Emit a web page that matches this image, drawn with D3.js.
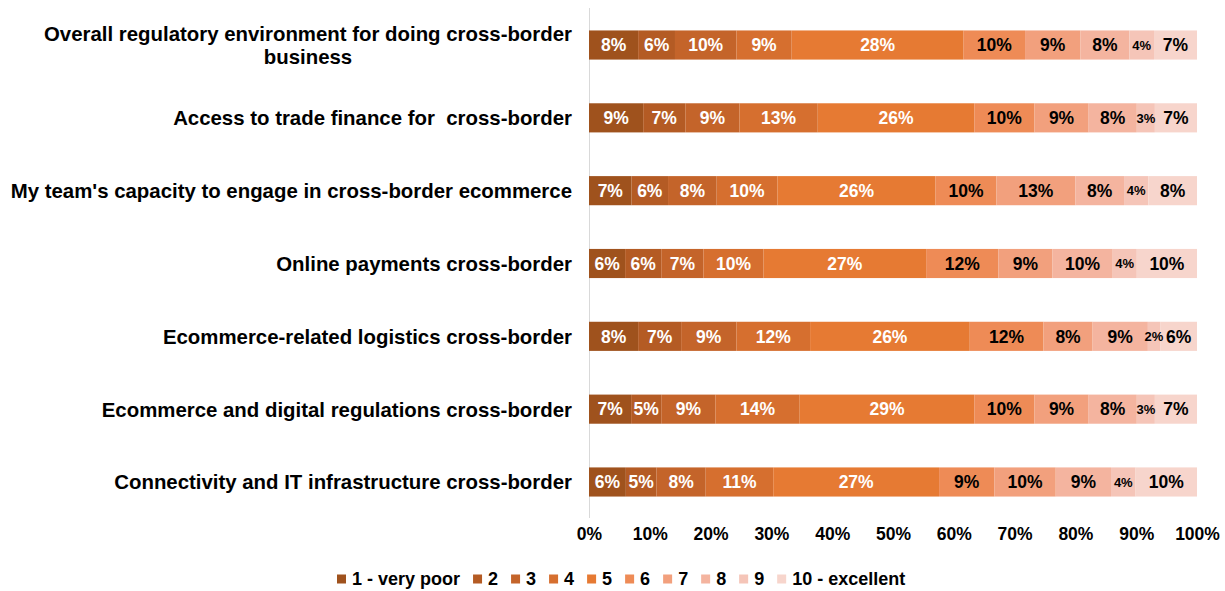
<!DOCTYPE html>
<html>
<head>
<meta charset="utf-8">
<script src="https://cdn.jsdelivr.net/npm/d3@7"></script>
<style>
  html, body { margin: 0; padding: 0; background: #ffffff; }
  svg { display: block; }
  text { font-family: "Liberation Sans", Arial, sans-serif; font-weight: bold; white-space: pre; }
</style>
</head>
<body>
<svg id="chart" width="1225" height="591"></svg>
<script>
// Survey categories (top to bottom)
const categories = [
  "Overall regulatory environment for doing cross-border business",
  "Access to trade finance for  cross-border",
  "My team's capacity to engage in cross-border ecommerce",
  "Online payments cross-border",
  "Ecommerce-related logistics cross-border",
  "Ecommerce and digital regulations cross-border",
  "Connectivity and IT infrastructure cross-border"
];

// Rating scale labels
const ratings = ["1 - very poor", "2", "3", "4", "5", "6", "7", "8", "9", "10 - excellent"];

// Share of respondents (%) for each rating, one array per rating, in category order
const r1  = [8, 9, 7, 6, 8, 7, 6];
const r2  = [6, 7, 6, 6, 7, 5, 5];
const r3  = [10, 9, 8, 7, 9, 9, 8];
const r4  = [9, 13, 10, 10, 12, 14, 11];
const r5  = [28, 26, 26, 27, 26, 29, 27];
const r6  = [10, 10, 10, 12, 12, 10, 9];
const r7  = [9, 9, 13, 9, 8, 9, 10];
const r8  = [8, 8, 8, 10, 9, 8, 9];
const r9  = [4, 3, 4, 4, 2, 3, 4];
const r10 = [7, 7, 8, 10, 6, 7, 10];
const seriesValues = [r1, r2, r3, r4, r5, r6, r7, r8, r9, r10];

// Axis tick values
const tickValues = [0, 0.1, 0.2, 0.3, 0.4, 0.5, 0.6, 0.7, 0.8, 0.9, 1.0];

const colors = ["#9f521d", "#b45b24", "#c4642a", "#d66f2f", "#e67a33",
                "#ee8b56", "#f2a07d", "#f4b49f", "#f5c5b8", "#f7d5cc"];

// Build rows for the stack layout: each row holds the ten rating shares
const rows = categories.map((c, i) => {
  const row = { category: c };
  ratings.forEach((r, k) => { row[r] = seriesValues[k][i]; });
  return row;
});

const svg = d3.select("#chart");
const x0 = 589, x1 = 1197;
const x = d3.scaleLinear().domain([0, 1]).range([x0, x1]);
const y = d3.scaleBand().domain(categories).range([8.6, 518.4])
  .paddingInner(0.6).paddingOuter(0.3);

const color = d3.scaleOrdinal().domain(ratings).range(colors);

// 100% stacked layout
const stack = d3.stack().keys(ratings).offset(d3.stackOffsetExpand);
const stacked = stack(rows);

// Value axis line (vertical, at 0%)
svg.append("line")
  .attr("x1", x0 + 0.5).attr("x2", x0 + 0.5)
  .attr("y1", 8).attr("y2", 518)
  .attr("stroke", "#d9d9d9").attr("stroke-width", 1);

// Bars
const layers = svg.append("g").selectAll("g")
  .data(stacked).join("g")
  .attr("fill", d => color(d.key));

layers.selectAll("rect")
  .data(d => d.map(p => ({ p, key: d.key })))
  .join("rect")
  .attr("x", d => x(d.p[0]))
  .attr("y", d => y(d.p.data.category))
  .attr("width", d => x(d.p[1]) - x(d.p[0]))
  .attr("height", y.bandwidth());

// Data labels
const labelG = svg.append("g");
stacked.forEach((layer, k) => {
  layer.forEach(p => {
    const v = p.data[layer.key];
    const small = v <= 4;
    labelG.append("text")
      .attr("x", (x(p[0]) + x(p[1])) / 2)
      .attr("y", y(p.data.category) + y.bandwidth() / 2)
      .attr("dy", "0.36em")
      .attr("text-anchor", "middle")
      .attr("font-size", small ? "13px" : "17.5px")
      .attr("fill", k < 5 ? "#ffffff" : "#000000")
      .text(v + "%");
  });
});

// Category labels, wrapped where needed
const wraps = {
  "Overall regulatory environment for doing cross-border business":
    ["Overall regulatory environment for doing cross-border", "business"]
};
const catG = svg.append("g");
categories.forEach(c => {
  const lines = wraps[c] || [c];
  const cy = y(c) + y.bandwidth() / 2;
  const lh = 22.5;
  const t = catG.append("text")
    .attr("font-size", "20.4px")
    .attr("fill", "#000000");
  lines.forEach((ln, i) => {
    t.append("tspan")
      .attr("y", cy + (i - (lines.length - 1) / 2) * lh)
      .attr("dy", "0.36em")
      .text(ln);
  });
  // right-align the block, centre the lines within it
  const spans = t.selectAll("tspan").nodes();
  const widths = spans.map(s => s.getComputedTextLength());
  const maxW = d3.max(widths);
  const centre = 572 - maxW / 2;
  spans.forEach(s => {
    d3.select(s).attr("x", centre).attr("text-anchor", "middle");
  });
});

// X axis tick labels
const axis = d3.axisBottom(x).tickValues(tickValues)
  .tickFormat(d3.format(".0%")).tickSize(0).tickPadding(0);
const axG = svg.append("g").attr("transform", "translate(0,528)").call(axis);
axG.select(".domain").remove();
axG.selectAll("text")
  .attr("font-family", null)
  .attr("font-size", "17.5px")
  .attr("fill", "#000000")
  .attr("dy", "0.71em");

// Legend
const legG = svg.append("g").attr("transform", "translate(337,579)");
let lx = 0;
ratings.forEach(r => {
  legG.append("rect")
    .attr("x", lx).attr("y", -4.5)
    .attr("width", 9).attr("height", 9)
    .attr("fill", color(r));
  const t = legG.append("text")
    .attr("x", lx + 15)
    .attr("y", 0)
    .attr("dy", "0.36em")
    .attr("font-size", "18px")
    .attr("fill", "#000000")
    .text(r);
  lx += 15 + t.node().getComputedTextLength() + 13;
});
</script>
</body>
</html>
